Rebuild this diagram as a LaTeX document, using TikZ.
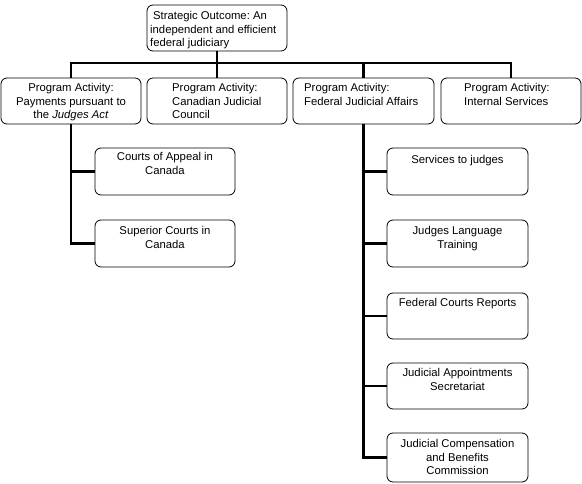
\documentclass[tikz,border=0pt]{standalone}
\usepackage{fontspec}
\setmainfont{Liberation Sans}
\frenchspacing
\begin{document}
\begin{tikzpicture}[x=1pt,y=-1pt,
  box/.style n args={2}{draw, rounded corners=6pt, line width=0.8pt, anchor=north west,
    minimum width=#1pt, minimum height=#2pt, inner sep=0pt, outer sep=0pt},
  lbl/.style={font=\fontsize{11.3}{13.7}\selectfont, inner sep=0pt, anchor=north, align=center},
  lbll/.style={font=\fontsize{11.3}{13.7}\selectfont, inner sep=0pt, anchor=north west, align=left},
  conn/.style={line width=2.6pt}]
\useasboundingbox (0,0) rectangle (582,484);
% boxes
\node[box={140}{46}] (top) at (147,5) {};
\node[box={140}{46}] (p1) at (1,78) {};
\node[box={140}{46}] (p2) at (147,78) {};
\node[box={141}{46}] (p3) at (293,78) {};
\node[box={140}{46}] (p4) at (441,78) {};
\node[box={140}{47}] (c1) at (95,148) {};
\node[box={140}{47}] (c2) at (95,220) {};
\node[box={141}{47}] (d1) at (387,148) {};
\node[box={141}{47}] (d2) at (387,220) {};
\node[box={141}{46}] (d3) at (387,293) {};
\node[box={141}{46}] (d4) at (387,363) {};
\node[box={141}{49}] (d5) at (387,433) {};
% texts
\node[lbll] (ttop) at (150,11) {\hspace*{3pt}Strategic Outcome: An\\independent and efficient\\federal judiciary};
\node[lbl] (tp1) at ([yshift=-5pt]p1.north) {Program Activity:\\Payments pursuant to\\the \textit{Judges Act}};
\node[lbll] (tp2) at (172,83) {Program Activity:\\Canadian Judicial\\Council};
\node[lbll] (tp3) at (304,83) {Program Activity:\\Federal Judicial Affairs};
\node[lbll] (tp4) at (464,83) {Program Activity:\\Internal Services};
\node[lbl] (tc1) at ([yshift=-4pt]c1.north) {Courts of Appeal in\\Canada};
\node[lbl] (tc2) at ([yshift=-6pt]c2.north) {Superior Courts in\\Canada};
\node[lbl] (td1) at ([yshift=-7pt]d1.north) {Services to judges};
\node[lbl] (td2) at ([yshift=-6pt]d2.north) {Judges Language\\Training};
\node[lbl] (td3) at ([yshift=-5pt]d3.north) {Federal Courts Reports};
\node[lbl] (td4) at ([yshift=-5pt]d4.north) {Judicial Appointments\\Secretariat};
\node[lbl] (td5) at ([yshift=-6pt]d5.north) {Judicial Compensation\\and Benefits\\Commission};
% connectors
\coordinate (bus) at (219,63);
\draw[conn] (top.south) -- (top.south |- bus);
\draw[conn] (p1.north) -- (p1.north |- bus) -- (p4.north |- bus) -- (p4.north);
\draw[conn] (p2.north) -- (p2.north |- bus);
\draw[conn] (p3.north) -- (p3.north |- bus);
\draw[conn] (p1.south) |- (c1.west);
\draw[conn] (p1.south) |- (c2.west);
\draw[conn] (p3.south) |- (d1.west);
\draw[conn] (p3.south) |- (d2.west);
\draw[conn] (p3.south) |- (d3.west);
\draw[conn] (p3.south) |- (d4.west);
\draw[conn] (p3.south) |- (d5.west);
\end{tikzpicture}
\end{document}
